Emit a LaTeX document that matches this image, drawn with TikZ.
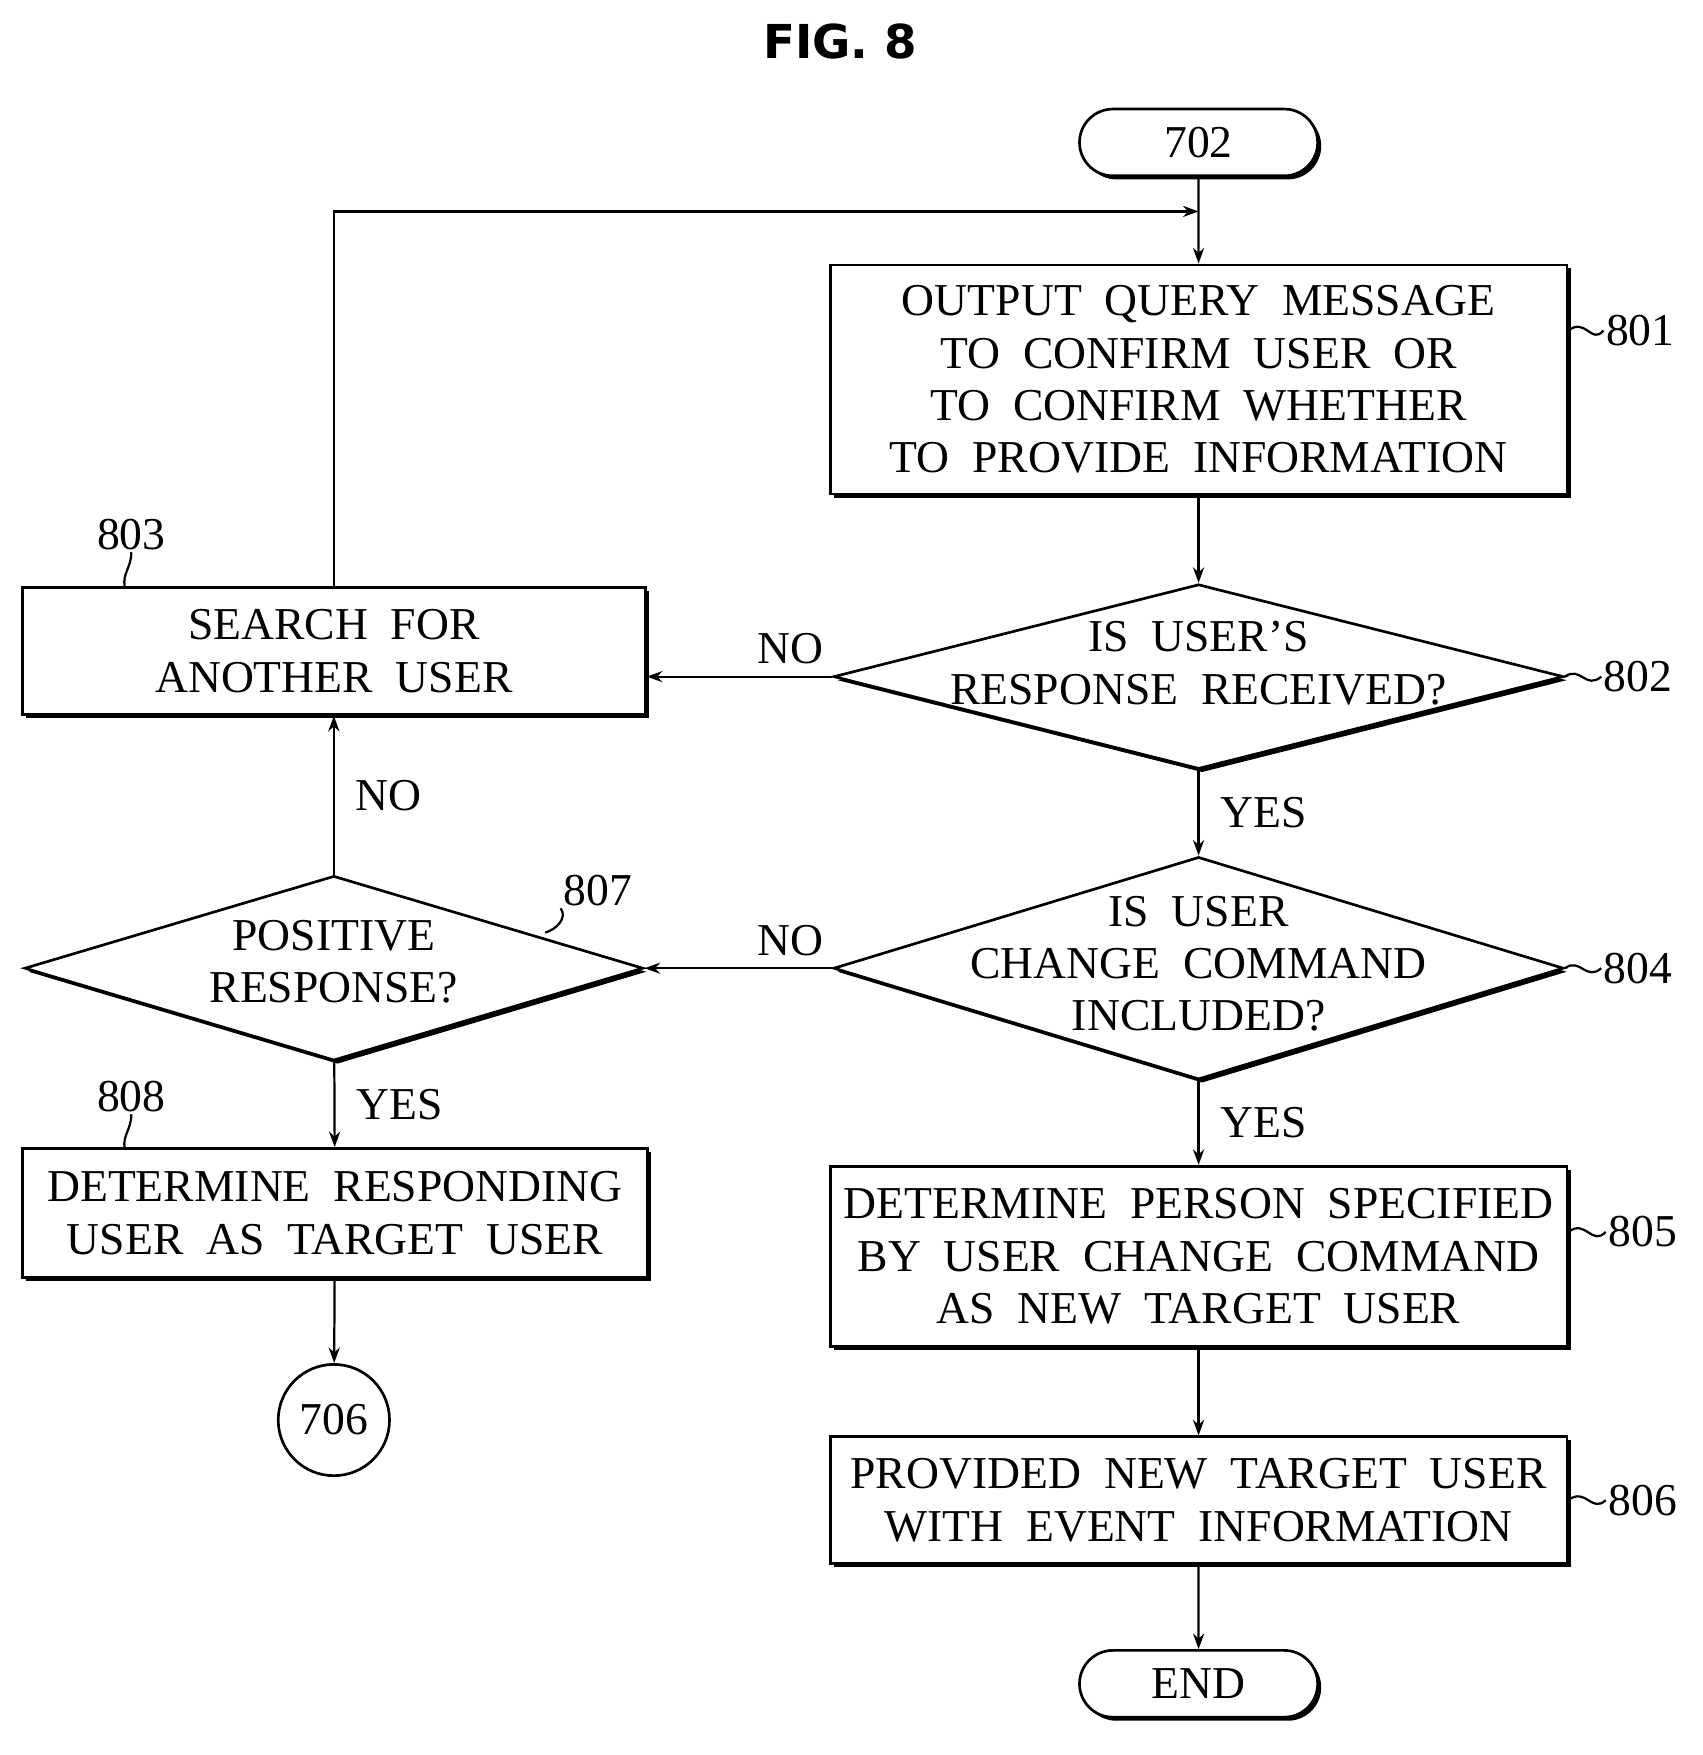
\documentclass[tikz,border=0pt]{standalone}
\usepackage{fontspec}
\setmainfont{Liberation Serif}
\newfontfamily\titlefont{DejaVu Sans}
\usetikzlibrary{shapes.geometric,shapes.misc,shadows,arrows.meta}
\begin{document}
\begin{tikzpicture}[x=0.5pt,y=-0.5pt,
  every node/.style={font=\fontsize{20.5}{23.5}\selectfont},
  box/.style={draw,line width=1.2pt,fill=white,align=center,inner sep=0pt,
    drop shadow={shadow xshift=1.6pt,shadow yshift=-1.6pt,fill=black,opacity=1}},
  dia/.style={draw,diamond,line width=1.2pt,fill=white,align=center,inner sep=0pt,
    drop shadow={shadow xshift=1.6pt,shadow yshift=-1.6pt,fill=black,opacity=1}},
  term/.style={draw,rounded rectangle,line width=1.2pt,fill=white,inner sep=0pt,
    drop shadow={shadow xshift=1.6pt,shadow yshift=-1.6pt,fill=black,opacity=1}},
  dtext/.style={align=center,inner sep=0pt},
  arr/.style={line width=1pt,-{Stealth[length=7pt,width=5pt]}},
  ln/.style={line width=1pt},
  lbl/.style={inner sep=1pt}]
\useasboundingbox (0,0) rectangle (1530,1577);
\node[font=\titlefont\bfseries\fontsize{21}{24}\selectfont] (title) at (755,37) {FIG. 8};
\node[term,minimum width=107pt,minimum height=30pt] (t702) at (1077,128) {702};
\node[box,minimum width=331pt,minimum height=103pt] (b801) at (1077,341) {OUTPUT\ \ QUERY\ \ MESSAGE\\TO\ \ CONFIRM\ \ USER\ \ OR\\TO\ \ CONFIRM\ \ WHETHER\\TO\ \ PROVIDE\ \ INFORMATION};
\node[dia,minimum width=328pt,minimum height=83pt,aspect=4] (d802) at (1077,608) {};
\node[dtext] (t802) at (1077,596) {IS\ \ USER'S\\RESPONSE\ \ RECEIVED?};
\node[box,minimum width=280pt,minimum height=57pt] (b803) at (300,585) {SEARCH\ \ FOR\\ANOTHER\ \ USER};
\node[dia,minimum width=328pt,minimum height=100pt,aspect=3.3] (d804) at (1077,870) {};
\node[dtext] (t804) at (1077,866) {IS\ \ USER\\CHANGE\ \ COMMAND\\INCLUDED?};
\node[dia,minimum width=278pt,minimum height=83pt,aspect=3.35] (d807) at (300,870) {};
\node[dtext] (t807) at (300,864) {POSITIVE\\RESPONSE?};
\node[box,minimum width=281pt,minimum height=58pt] (b808) at (301,1090) {DETERMINE\ \ RESPONDING\\USER\ \ AS\ \ TARGET\ \ USER};
\node[draw,circle,line width=1.2pt,minimum size=50pt,inner sep=0pt] (c706) at (300,1276) {706};
\node[box,minimum width=331pt,minimum height=81pt] (b805) at (1077,1129) {DETERMINE\ \ PERSON\ \ SPECIFIED\\BY\ \ USER\ \ CHANGE\ \ COMMAND\\AS\ \ NEW\ \ TARGET\ \ USER};
\node[box,minimum width=331pt,minimum height=57pt] (b806) at (1077,1348) {PROVIDED\ \ NEW\ \ TARGET\ \ USER\\WITH\ \ EVENT\ \ INFORMATION};
\node[term,minimum width=107pt,minimum height=30pt] (tend) at (1077,1513) {END};
\coordinate (join) at (1077,190);
\draw[arr] (t702) -- (b801);
\draw[arr] (b801) -- (d802);
\draw[arr] (d802.west) -- (d802.west -| b803.east);
\node (no1) at (710,583) {NO};
\draw[arr] (d802) -- (d804) node[midway,right=6pt] (yes1) {YES};
\draw[arr] (d804.west) -- (d807.east);
\node (no2) at (710,845) {NO};
\draw[arr] (d804) -- (b805) node[midway,right=6pt] (yes2) {YES};
\draw[arr] (b805) -- (b806);
\draw[arr] (b806) -- (tend);
\draw[arr] (d807) -- (b803) node[midway,right=6pt] (no3) {NO};
\draw[arr] (d807) -- (b808) node[midway,right=6pt] (yes3) {YES};
\draw[arr] (b808) -- (c706);
\draw[arr] (b803.north) -- (300,190) -- (join);
% reference labels
\node[lbl] (l801) at (1474,297) {801};
\node[lbl] (l802) at (1472,608) {802};
\node[lbl] (l804) at (1472,870) {804};
\node[lbl] (l805) at (1476,1107) {805};
\node[lbl] (l806) at (1476,1348) {806};
\node[lbl] (l803) at (118,480) {803};
\node[lbl] (l807) at (537,800) {807};
\node[lbl] (l808) at (118,985) {808};
\draw[ln] (b801.east|-l801) .. controls (1425,285) and (1430,310) .. (l801.west);
\draw[ln] (d802.east) .. controls (1420,598) and (1425,620) .. (l802.west);
\draw[ln] (d804.east) .. controls (1420,860) and (1425,882) .. (l804.west);
\draw[ln] (b805.east|-l805) .. controls (1425,1095) and (1430,1120) .. (l805.west);
\draw[ln] (b806.east|-l806) .. controls (1425,1336) and (1430,1360) .. (l806.west);
\draw[ln] (l803.south) .. controls (118,510) and (110,515) .. (112,527);
\draw[ln] (l807.south west) .. controls (510,825) and (500,835) .. (490,838);
\draw[ln] (l808.south) .. controls (118,1015) and (110,1020) .. (112,1032);
\end{tikzpicture}
\end{document}
